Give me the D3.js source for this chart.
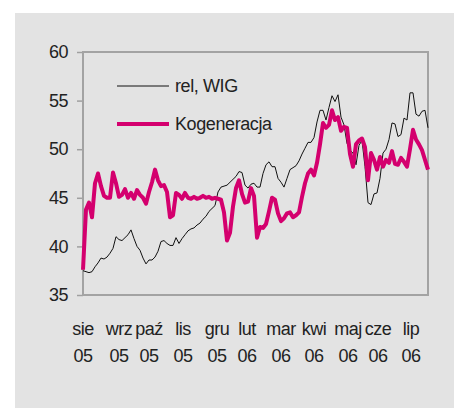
<!DOCTYPE html>
<html><head><meta charset="utf-8">
<script src="https://cdn.jsdelivr.net/npm/d3@7"></script>
<style>body{margin:0;background:#fff;}svg{display:block;}</style>
</head><body>
<svg id="c" width="454" height="408"></svg>
<script>
// Data (readings every ~3 trading days, Aug 2005 – Jul 2006)
const relWIG = [37.5,37.4,37.3,37.4,37.9,38.3,38.8,38.7,38.9,39.3,39.8,41.0,40.7,40.6,40.9,41.2,41.7,40.8,40.0,39.6,
38.8,38.2,38.6,38.6,38.9,39.5,40.5,40.6,40.3,40.1,40.1,40.9,40.3,40.8,41.2,41.6,41.8,41.9,42.2,42.4,
42.8,43.1,43.6,43.9,44.2,45.6,46.1,46.2,46.3,46.6,46.9,47.2,47.7,47.6,46.3,46.0,46.4,46.5,46.1,46.1,
47.5,48.4,48.7,48.2,48.2,47.0,46.6,46.1,47.0,47.9,48.1,48.3,48.8,49.5,50.1,50.7,50.7,51.2,52.8,54.0,
54.0,53.0,54.3,55.5,54.9,55.6,53.3,52.5,50.6,49.9,49.6,48.4,50.4,50.9,48.2,44.5,44.3,45.4,45.5,47.0,
49.6,50.0,51.0,52.7,52.6,51.3,51.5,53.2,53.0,55.8,55.8,53.6,53.4,53.9,54.0,52.2];
const kogeneracja = [37.6,43.8,44.5,43.0,46.5,47.5,46.2,45.2,45.0,45.0,47.6,46.5,45.1,45.3,45.9,45.0,45.5,44.9,45.8,45.3,
45.0,44.4,45.6,46.6,47.9,46.8,46.2,46.3,45.6,43.0,43.2,45.5,45.3,44.9,45.5,45.0,44.9,45.1,44.9,45.0,
45.2,45.0,45.1,44.9,45.0,44.9,44.8,43.5,40.6,41.4,44.1,46.0,46.8,45.4,44.5,44.6,46.0,45.2,40.9,42.0,
41.9,42.3,43.6,45.0,44.8,43.4,42.6,42.9,43.4,43.5,43.0,43.2,43.5,45.1,46.5,47.5,47.9,47.3,48.6,50.5,
52.7,52.2,52.5,54.0,53.0,53.3,51.9,52.3,52.2,49.5,48.2,50.5,50.9,51.1,50.2,46.8,49.6,48.9,47.9,49.2,
48.2,48.9,48.6,49.8,48.5,48.4,49.1,48.7,48.2,50.0,52.0,51.0,50.5,49.9,48.9,47.9];
const monthLabels = ["sie","wrz","paź","lis","gru","lut","mar","kwi","maj","cze","lip"];
const yearLabels  = ["05","05","05","05","05","06","06","06","06","06","06"];
const labelIndex  = [0,12,22,33.3,44.7,54.7,66,77,88.3,98.3,109.3];
const yTicks = [35,40,45,50,55,60];
const seriesNames = ["rel, WIG","Kogeneracja"];

const svg = d3.select("#c");
const FONT = "'Liberation Sans', Arial, sans-serif";
svg.append("rect").attr("x",15).attr("y",13).attr("width",439).attr("height",395).attr("fill","#e3e3e3");

const L=83,R=428,T=52,B=295;
const n = relWIG.length;
const x = d3.scaleLinear().domain([0,n-1]).range([L,R]);
const y = d3.scaleLinear().domain([35,60]).range([B,T]);

// y axis ticks + labels
const yAxis = d3.axisLeft(y).tickValues(yTicks).tickSize(6).tickPadding(9).tickFormat(d3.format("d"));
const ga = svg.append("g").attr("transform",`translate(${L},0)`).call(yAxis);
ga.select(".domain").remove();
ga.selectAll("line").attr("stroke","#a0a0a0").attr("stroke-width",1.5);
ga.selectAll("text").attr("font-family",FONT).attr("font-size",18).attr("fill","#222").attr("letter-spacing",-0.5);

// frame
svg.append("rect").attr("x",L).attr("y",T).attr("width",R-L).attr("height",B-T)
  .attr("fill","none").attr("stroke","#a3a3a3").attr("stroke-width",2);

// x labels
const gx = svg.append("g");
monthLabels.forEach((m,i)=>{
  const t = gx.append("text").attr("x",x(labelIndex[i])).attr("text-anchor","middle")
    .attr("font-family",FONT).attr("font-size",18).attr("fill","#222").attr("letter-spacing",-0.5);
  t.append("tspan").attr("x",x(labelIndex[i])).attr("y",335).text(m);
  t.append("tspan").attr("x",x(labelIndex[i])).attr("y",362).text(yearLabels[i]);
});

const line = d3.line().x((d,i)=>x(i)).y(d=>y(d));
svg.append("path").datum(relWIG).attr("d",line).attr("fill","none").attr("stroke","#111").attr("stroke-width",1);
svg.append("path").datum(kogeneracja).attr("d",line).attr("fill","none").attr("stroke","#d4006e")
  .attr("stroke-width",4).attr("stroke-linejoin","round");

// legend
const leg = svg.append("g");
const legY = [86,124];
const legStyle = [{c:"#111",w:1},{c:"#d4006e",w:4}];
seriesNames.forEach((s,i)=>{
  leg.append("line").attr("x1",117).attr("x2",169).attr("y1",legY[i]).attr("y2",legY[i])
    .attr("stroke",legStyle[i].c).attr("stroke-width",legStyle[i].w);
  leg.append("text").attr("x",175).attr("y",legY[i]).attr("dy","0.35em")
    .attr("font-family",FONT).attr("font-size",18).attr("fill","#222").attr("letter-spacing",-0.4).text(s);
});
</script>
</body></html>
